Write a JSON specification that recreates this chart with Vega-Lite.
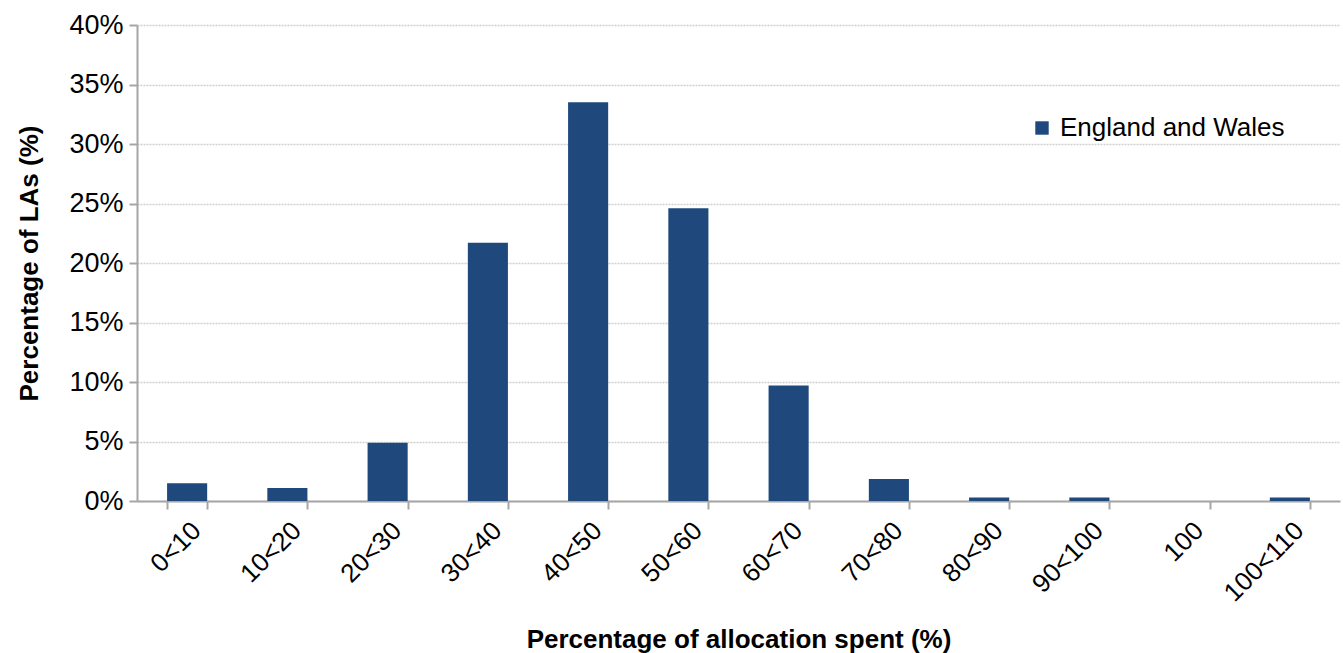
{
  "$schema": "https://vega.github.io/schema/vega-lite/v6.json",
  "width": 1203,
  "height": 476,
  "autosize": {"type": "none"},
  "padding": {"left": 137, "top": 25, "right": 3, "bottom": 152},
  "background": "white",
  "config": {
    "view": {"stroke": null},
    "font": "Liberation Sans"
  },
  "data": {
    "values": [
      {"range": "0<10", "pct": 0.015, "series": "England and Wales"},
      {"range": "10<20", "pct": 0.011, "series": "England and Wales"},
      {"range": "20<30", "pct": 0.049, "series": "England and Wales"},
      {"range": "30<40", "pct": 0.217, "series": "England and Wales"},
      {"range": "40<50", "pct": 0.335, "series": "England and Wales"},
      {"range": "50<60", "pct": 0.246, "series": "England and Wales"},
      {"range": "60<70", "pct": 0.097, "series": "England and Wales"},
      {"range": "70<80", "pct": 0.0185, "series": "England and Wales"},
      {"range": "80<90", "pct": 0.003, "series": "England and Wales"},
      {"range": "90<100", "pct": 0.003, "series": "England and Wales"},
      {"range": "100", "pct": 0, "series": "England and Wales"},
      {"range": "100<110", "pct": 0.003, "series": "England and Wales"}
    ]
  },
  "mark": {"type": "bar"},
  "encoding": {
    "x": {
      "field": "range",
      "type": "nominal",
      "sort": null,
      "scale": {"paddingInner": 0.6, "paddingOuter": 0.3},
      "axis": {
        "title": "Percentage of allocation spent (%)",
        "titleFontSize": 26,
        "titleFontWeight": "bold",
        "titleColor": "#000000",
        "titlePadding": 20,
        "labelAngle": -45,
        "labelFontSize": 26,
        "labelColor": "#000000",
        "labelPadding": 8,
        "tickBand": "extent",
        "tickSize": 8,
        "tickColor": "#a6a6a6",
        "tickWidth": 2,
        "domainColor": "#a6a6a6",
        "domainWidth": 2,
        "grid": false
      }
    },
    "y": {
      "field": "pct",
      "type": "quantitative",
      "scale": {"domain": [0, 0.4]},
      "axis": {
        "title": "Percentage of LAs (%)",
        "titleFontSize": 26,
        "titleFontWeight": "bold",
        "titleColor": "#000000",
        "titlePadding": 26,
        "format": ".0%",
        "values": [0, 0.05, 0.1, 0.15, 0.2, 0.25, 0.3, 0.35, 0.4],
        "labelFontSize": 27,
        "labelColor": "#000000",
        "labelPadding": 6,
        "tickSize": 8,
        "tickColor": "#a6a6a6",
        "tickWidth": 2,
        "domainColor": "#a6a6a6",
        "domainWidth": 2,
        "grid": true,
        "gridColor": "#d0d0d0",
        "gridWidth": 1.5,
        "gridDash": [2, 1]
      }
    },
    "color": {
      "field": "series",
      "type": "nominal",
      "scale": {"range": ["#1f497d"]},
      "legend": {
        "title": null,
        "orient": "none",
        "legendX": 892,
        "legendY": 90,
        "symbolType": "square",
        "symbolSize": 180,
        "labelFontSize": 26,
        "labelLimit": 0,
        "labelColor": "#000000",
        "labelOffset": 5
      }
    }
  }
}
